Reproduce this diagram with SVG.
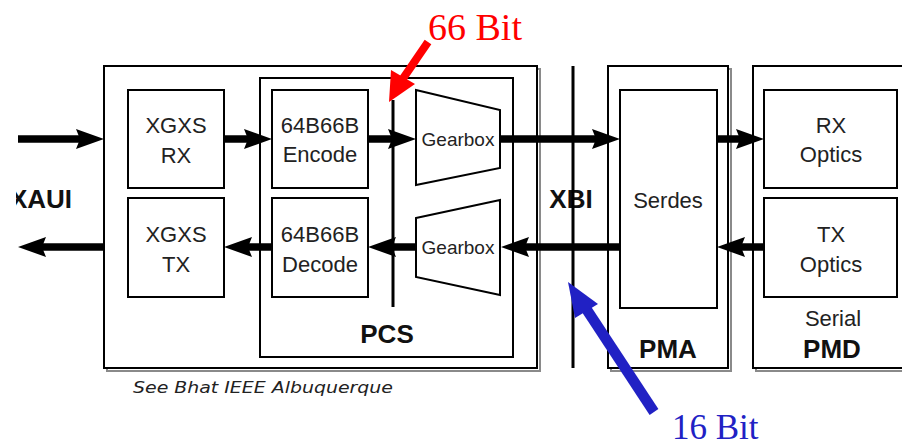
<svg xmlns="http://www.w3.org/2000/svg" width="902" height="448" viewBox="0 0 902 448">
  <style>
    .box { fill: #ffffff; stroke: #000000; stroke-width: 2; }
    .shadow { fill: none; stroke: #8a8a8a; stroke-width: 2; }
    .lbl { font-family: "Liberation Sans", Arial, sans-serif; font-size: 22px; fill: #222222; text-anchor: middle; }
    .gb { font-family: "Liberation Sans", Arial, sans-serif; font-size: 19px; fill: #222222; text-anchor: middle; }
    .big { font-family: "Liberation Sans", Arial, sans-serif; font-size: 26px; font-weight: bold; fill: #111111; text-anchor: middle; }
    .bus { stroke: #000000; stroke-width: 7.5; fill: none; marker-end: url(#head); }
    .bar { stroke: #000000; stroke-width: 3; }
  </style>
  <defs>
    <marker id="head" markerUnits="userSpaceOnUse" markerWidth="32" markerHeight="24" refX="10" refY="10" orient="auto">
      <path d="M0,0 L28,10 L0,20 L4,10 z" fill="#000000"/>
    </marker>
    <clipPath id="edge">
      <rect x="16" y="180" width="80" height="40"/>
    </clipPath>
  </defs>

  <rect width="902" height="448" fill="#ffffff"/>

  <!-- XGXS / PCS enclosure -->
  <g id="xgxs-pcs-enclosure">
    <rect class="shadow" x="107" y="69" width="433" height="302"/>
    <rect class="box" x="104" y="66" width="433" height="302"/>
  </g>

  <g id="pcs">
    <rect class="box" x="260" y="78" width="253" height="279"/>
    <text class="big" x="387" y="343">PCS</text>
  </g>

  <g id="xgxs-rx">
    <rect class="box" x="128" y="90" width="96" height="98"/>
    <text class="lbl" x="176" y="133">XGXS</text>
    <text class="lbl" x="176" y="163">RX</text>
  </g>

  <g id="xgxs-tx">
    <rect class="box" x="128" y="198" width="96" height="99"/>
    <text class="lbl" x="176" y="242">XGXS</text>
    <text class="lbl" x="176" y="272">TX</text>
  </g>

  <g id="encode">
    <rect class="box" x="272" y="90" width="96" height="98"/>
    <text class="lbl" x="320" y="133">64B66B</text>
    <text class="lbl" x="320" y="162">Encode</text>
  </g>

  <g id="decode">
    <rect class="box" x="272" y="198" width="96" height="99"/>
    <text class="lbl" x="320" y="242">64B66B</text>
    <text class="lbl" x="320" y="272">Decode</text>
  </g>

  <g id="gearbox-tx">
    <polygon class="box" points="416,90 500,110 500,168 416,185"/>
    <text class="gb" x="458" y="146">Gearbox</text>
  </g>

  <g id="gearbox-rx">
    <polygon class="box" points="416,218 500,200 500,295 416,277"/>
    <text class="gb" x="458" y="254">Gearbox</text>
  </g>

  <g id="pma">
    <rect class="shadow" x="611" y="69" width="120" height="302"/>
    <rect class="box" x="608" y="66" width="120" height="302"/>
    <text class="big" x="668" y="358">PMA</text>
  </g>

  <g id="serdes">
    <rect class="box" x="620" y="90" width="97" height="218"/>
    <text class="lbl" x="668" y="208">Serdes</text>
  </g>

  <g id="pmd">
    <rect class="shadow" x="756" y="69" width="160" height="302"/>
    <rect class="box" x="753" y="66" width="160" height="302"/>
    <text class="lbl" x="833" y="326">Serial</text>
    <text class="big" x="832" y="358">PMD</text>
  </g>

  <g id="rx-optics">
    <rect class="box" x="764" y="90" width="133" height="98"/>
    <text class="lbl" x="831" y="133">RX</text>
    <text class="lbl" x="831" y="162">Optics</text>
  </g>

  <g id="tx-optics">
    <rect class="box" x="764" y="198" width="133" height="99"/>
    <text class="lbl" x="831" y="242">TX</text>
    <text class="lbl" x="831" y="272">Optics</text>
  </g>

  <!-- interface labels -->
  <text class="big" x="72" y="208" clip-path="url(#edge)" style="text-anchor:end">XAUI</text>
  <text class="big" x="571" y="208">XBI</text>

  <!-- data paths -->
  <g id="connectors">
    <!-- transmit direction -->
    <path class="bus" d="M18,139 H86"/>
    <path class="bus" d="M224,139 H254"/>
    <path class="bus" d="M368,139 H398"/>
    <path class="bus" d="M501,139 H602"/>
    <path class="bus" d="M717,139 H746"/>
    <!-- receive direction -->
    <path class="bus" d="M764,247 H735"/>
    <path class="bus" d="M620,247 H519"/>
    <path class="bus" d="M416,247 H386"/>
    <path class="bus" d="M272,247 H242"/>
    <path class="bus" d="M104,247 H36"/>
    <!-- 66-bit and XBI boundaries -->
    <line class="bar" x1="393" y1="100" x2="393" y2="307"/>
    <line class="bar" x1="573" y1="66" x2="573" y2="368"/>
  </g>

  <!-- bus width callouts -->
  <g id="callout-66">
    <path d="M428,42 L402,80" stroke="#ff0000" stroke-width="8" fill="none"/>
    <polygon points="389,102 391,70 415,84" fill="#ff0000"/>
    <text x="428" y="40" font-family="Liberation Serif, 'Times New Roman', serif" font-size="38" fill="#ff0000">66 Bit</text>
  </g>

  <g id="callout-16">
    <path d="M654,412 L583,304" stroke="#2121c4" stroke-width="10.5" fill="none"/>
    <polygon points="568,282 575,318 598,304" fill="#2121c4"/>
    <text x="672" y="439" font-family="Liberation Serif, 'Times New Roman', serif" font-size="35" fill="#2121c4">16 Bit</text>
  </g>

  <text x="133" y="393" font-family="'DejaVu Sans', sans-serif" font-style="italic" font-size="15" fill="#222222" textLength="260" lengthAdjust="spacingAndGlyphs">See Bhat IEEE Albuquerque</text>
</svg>
